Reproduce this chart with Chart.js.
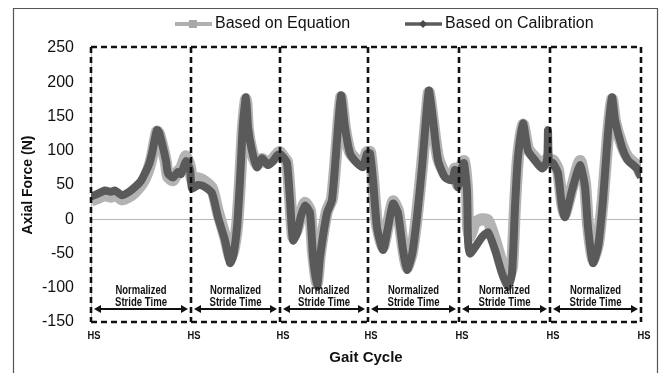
<!DOCTYPE html>
<html><head><meta charset="utf-8">
<script src="https://cdn.jsdelivr.net/npm/chart.js@4/dist/chart.umd.min.js"></script>
<style>html,body{margin:0;padding:0;background:#fff}#wrap{width:659px;height:373px}</style>
</head><body><div id="wrap"><canvas id="c" width="659" height="373"></canvas></div>
<script>
// Heel-strike boundaries (time index)
const hsPositions = [0, 100, 189, 277, 368, 459, 550];
const hsLabel = 'HS';
const strideLabel = ['Normalized', 'Stride Time'];
const yTicks = {min: -150, max: 250, step: 50};
const seriesNames = ['Based on Equation', 'Based on Calibration'];

// Based on Calibration
const xCal = [0,5,14,20,24,31,38,44,50,54,58,61,64,66,68,72,75,77,82,87,90,95,99,
  101,107,113,121,127,134,139,142,146,149,152,155,157,161,166,171,177,182,186,
  189,192,196,199,202,206,210,214,219,222,226,229,236,241,246,250,254,259,266,272,276,
  279,282,286,292,297,302,307,312,316,321,326,331,336,338,342,347,354,361,364,367,
  371,373,376,377,379,384,391,397,404,411,417,421,424,427,432,437,444,451,456,457,458,
  462,467,471,474,481,489,494,497,502,507,512,517,521,524,531,537,546,550];
const yCal = [33,36,42,40,42,35,40,47,56,67,80,96,118,130,127,105,85,67,61,69,66,85,72,
  45,50,48,38,3,-31,-64,-55,-12,57,140,178,134,100,76,89,79,85,93,
  95,91,82,28,-31,-20,5,20,9,-55,-99,-55,9,28,115,181,134,96,82,76,96,
  96,57,-12,-45,-12,23,9,-45,-74,-52,3,76,164,188,145,86,61,57,72,47,
  76,82,42,-31,-50,-41,-26,-19,-45,-79,-99,-79,18,91,140,100,86,74,86,130,85,
  82,67,18,3,42,79,47,-12,-64,-41,28,126,178,145,105,86,74,61];

// Based on Equation
const xEq = [0,5,14,20,24,31,38,44,50,54,58,61,64,66,68,72,75,77,82,87,90,95,99,
  101,107,113,121,127,134,139,142,146,149,152,155,157,161,166,171,177,182,186,
  189,192,196,199,202,206,210,214,219,222,226,229,236,241,246,250,254,259,266,272,276,
  279,282,286,292,297,302,307,312,316,321,326,331,336,338,342,347,354,361,364,367,
  371,373,376,377,379,384,391,397,404,411,417,421,424,427,432,437,444,451,456,458,
  462,467,471,474,481,489,494,497,502,507,512,517,521,524,531,537,546,550];
const yEq = [27,30,35,33,36,29,33,40,50,60,75,92,115,128,125,103,82,62,57,70,74,92,76,
  58,60,56,45,10,-25,-55,-48,-10,55,135,175,130,98,80,88,82,88,95,
  98,92,84,32,-25,-15,8,24,12,-48,-92,-50,12,30,112,178,132,98,86,80,98,
  98,60,-8,-40,-8,26,12,-40,-70,-48,6,78,160,185,142,90,66,60,74,50,
  80,85,45,-10,-25,-5,0,-2,-30,-65,-85,-70,20,90,138,103,90,78,88,85,
  86,72,24,8,46,85,52,-8,-58,-36,32,124,175,143,108,90,78,66];

const toPts = (xs, ys) => xs.map((x, i) => ({x, y: ys[i]}));

const decor = {
  id: 'decor',
  beforeDraw(chart) {
    const c = chart.ctx;
    c.save(); c.fillStyle = '#fff'; c.fillRect(0, 0, chart.width, chart.height); c.restore();
  },
  afterDatasetsDraw(chart) {
    const c = chart.ctx, xs = chart.scales.x, ys = chart.scales.y;
    const top = ys.getPixelForValue(yTicks.max) - 1, bot = ys.getPixelForValue(yTicks.min);
    c.save();
    c.strokeStyle = '#111'; c.lineWidth = 2.6; c.setLineDash([6, 4]);
    const L = xs.getPixelForValue(hsPositions[0]), R = xs.getPixelForValue(hsPositions[hsPositions.length - 1]);
    c.beginPath(); c.moveTo(L, top); c.lineTo(R, top); c.stroke();
    c.beginPath(); c.moveTo(L, bot); c.lineTo(R, bot); c.stroke();
    hsPositions.forEach(h => {
      const px = xs.getPixelForValue(h);
      c.beginPath(); c.moveTo(px, top); c.lineTo(px, bot); c.stroke();
    });
    c.setLineDash([]);
    // arrows + labels
    const ay = bot - 13;
    c.fillStyle = '#111'; c.strokeStyle = '#111'; c.lineWidth = 1.8;
    for (let i = 0; i < hsPositions.length - 1; i++) {
      const a = xs.getPixelForValue(hsPositions[i]) + 3, b = xs.getPixelForValue(hsPositions[i + 1]) - 3;
      c.beginPath(); c.moveTo(a + 4, ay); c.lineTo(b - 4, ay); c.stroke();
      c.beginPath(); c.moveTo(a, ay); c.lineTo(a + 7, ay - 4); c.lineTo(a + 7, ay + 4); c.closePath(); c.fill();
      c.beginPath(); c.moveTo(b, ay); c.lineTo(b - 7, ay - 4); c.lineTo(b - 7, ay + 4); c.closePath(); c.fill();
      const mid = (a + b) / 2;
      c.font = 'bold 12px "Liberation Sans Narrow", "Liberation Sans", Arial';
      c.textAlign = 'center'; c.textBaseline = 'middle';
      c.fillText(strideLabel[0], mid, ay - 18, 51);
      c.fillText(strideLabel[1], mid, ay - 6, 52);
    }
    // HS labels
    c.font = 'bold 11px "Liberation Sans", Arial';
    hsPositions.forEach(h => {
      c.fillText(hsLabel, xs.getPixelForValue(h) + 3, bot + 14, 13);
    });
    c.restore();
  },
  afterDraw(chart) {
    const c = chart.ctx;
    c.save();
    // frame
    c.strokeStyle = '#555'; c.lineWidth = 1.2;
    c.beginPath(); c.moveTo(13.5, 373); c.lineTo(13.5, 8.5); c.lineTo(657.5, 8.5); c.lineTo(657.5, 373); c.stroke();
    // legend
    const ly = 24;
    c.font = '16px "Liberation Sans", Arial';
    c.textBaseline = 'middle'; c.textAlign = 'left'; c.fillStyle = '#111';
    c.strokeStyle = '#b0b0b0'; c.lineWidth = 4;
    c.beginPath(); c.moveTo(175, ly); c.lineTo(212, ly); c.stroke();
    c.fillStyle = '#a8a8a8'; c.fillRect(189, ly - 4, 8, 8);
    c.fillStyle = '#111'; c.fillText(seriesNames[0], 215, ly);
    c.strokeStyle = '#5c5c5c'; c.lineWidth = 3.5;
    c.beginPath(); c.moveTo(405, ly); c.lineTo(442, ly); c.stroke();
    c.fillStyle = '#4a4a4a'; c.beginPath(); c.moveTo(423, ly - 4); c.lineTo(427, ly); c.lineTo(423, ly + 4); c.lineTo(419, ly); c.closePath(); c.fill();
    c.fillStyle = '#111'; c.fillText(seriesNames[1], 445, ly);
    c.restore();
  }
};

new Chart(document.getElementById('c'), {
  type: 'line',
  data: {
    datasets: [
      {label: seriesNames[1], data: toPts(xCal, yCal), borderColor: '#5a5a5a', borderWidth: 8,
       pointRadius: 0, tension: 0.2, order: 1},
      {label: seriesNames[0], data: toPts(xEq, yEq), borderColor: '#b3b3b3', borderWidth: 12,
       pointRadius: 0, tension: 0.2, order: 2}
    ]
  },
  options: {
    responsive: false, animation: false,
    layout: {padding: {left: 13, top: 48, right: 18, bottom: 0}},
    plugins: {legend: {display: false}, tooltip: {enabled: false}},
    scales: {
      x: {type: 'linear', min: hsPositions[0], max: hsPositions[hsPositions.length - 1],
          ticks: {display: false}, grid: {display: false}, border: {display: false},
          title: {display: true, text: 'Gait Cycle', color: '#111',
                  font: {size: 15, weight: 'bold', family: '"Liberation Sans", Arial'}, padding: {top: 0, bottom: 6}},
          afterFit(s) { s.height = 51; }},
      y: {min: yTicks.min, max: yTicks.max,
          ticks: {stepSize: yTicks.step, color: '#111', padding: 17,
                  font: {size: 16, family: '"Liberation Sans", Arial'}},
          grid: {drawTicks: false, color: ctx => (ctx.tick && ctx.tick.value === 0) ? '#b8b8b8' : 'rgba(0,0,0,0)'},
          border: {display: true, color: '#b8b8b8'},
          title: {display: true, text: 'Axial Force (N)', color: '#111',
                  font: {size: 14, weight: 'bold', family: '"Liberation Sans", Arial'}, padding: {top: 7, bottom: 0}},
          afterFit(s) { s.width = 78; }}
    }
  },
  plugins: [decor]
});
</script></body></html>
